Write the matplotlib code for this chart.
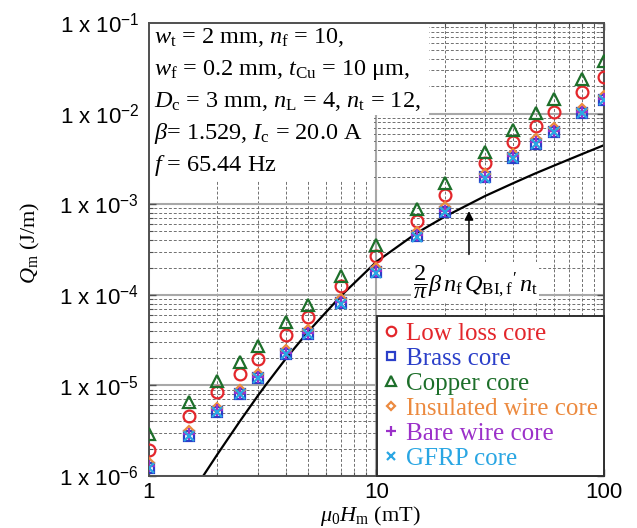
import matplotlib
matplotlib.use("Agg")
import matplotlib.pyplot as plt
from matplotlib.patches import Rectangle
from matplotlib.ticker import LogLocator, NullFormatter, FixedLocator, FixedFormatter

plt.rcParams["mathtext.fontset"] = "custom"
plt.rcParams["mathtext.rm"] = "Liberation Serif"
plt.rcParams["mathtext.it"] = "Liberation Serif:italic"
plt.rcParams["mathtext.bf"] = "Liberation Serif:bold"
plt.rcParams["mathtext.sf"] = "Liberation Sans"

# applied field amplitude (mT)
mu0_hm = [1, 1.5, 2, 2.5, 3, 4, 5, 7, 10, 15, 20, 30, 40, 50, 60, 80, 100]

# measured loss per unit length (J/m)
q_low_loss = [1.96e-6, 4.63e-6, 8.5e-6, 1.34e-5, 1.96e-5, 3.6e-5, 5.7e-5, 1.25e-4, 2.67e-4,
              6.6e-4, 1.25e-3, 2.88e-3, 4.91e-3, 7.36e-3, 1.05e-2, 1.74e-2, 2.55e-2]
q_brass = [1.24e-6, 2.79e-6, 5.13e-6, 8.1e-6, 1.21e-5, 2.23e-5, 3.7e-5, 8.1e-5, 1.78e-4,
           4.43e-4, 8.3e-4, 1.97e-3, 3.27e-3, 4.67e-3, 6.3e-3, 1.02e-2, 1.42e-2]
q_copper = [2.94e-6, 6.6e-6, 1.12e-5, 1.82e-5, 2.73e-5, 5.0e-5, 7.7e-5, 1.61e-4, 3.52e-4,
            8.8e-4, 1.72e-3, 3.81e-3, 6.65e-3, 1.02e-2, 1.46e-2, 2.42e-2, 3.82e-2]
q_insulated = [1.38e-6, 3.1e-6, 5.7e-6, 9.0e-6, 1.35e-5, 2.48e-5, 4.1e-5, 9.0e-5, 1.97e-4,
               4.9e-4, 9.2e-4, 2.18e-3, 3.62e-3, 5.2e-3, 7.0e-3, 1.13e-2, 1.58e-2]
q_bare = [1.28e-6, 2.88e-6, 5.3e-6, 8.3e-6, 1.25e-5, 2.3e-5, 3.8e-5, 8.3e-5, 1.83e-4,
          4.55e-4, 8.5e-4, 2.02e-3, 3.36e-3, 4.8e-3, 6.5e-3, 1.05e-2, 1.46e-2]
q_gfrp = [1.23e-6, 2.76e-6, 5.08e-6, 8.0e-6, 1.2e-5, 2.2e-5, 3.66e-5, 8.0e-5, 1.76e-4,
          4.38e-4, 8.2e-4, 1.95e-3, 3.23e-3, 4.62e-3, 6.2e-3, 1.01e-2, 1.40e-2]

# calculated loss of the filaments
curve_hm = [1.6, 1.73, 2, 2.5, 3, 3.26, 4, 5, 7, 10, 15, 20, 30, 40, 50, 60, 80, 100]
curve_q = [7.4e-7, 1.0e-6, 1.74e-6, 3.97e-6, 7.6e-6, 1.01e-5, 1.98e-5, 3.9e-5, 9.8e-5, 2.32e-4,
           4.8e-4, 7.3e-4, 1.23e-3, 1.71e-3, 2.19e-3, 2.65e-3, 3.57e-3, 4.48e-3]

y_ticks = [1e-6, 1e-5, 1e-4, 1e-3, 1e-2, 1e-1]
y_tick_labels = [r"1 x 10$^{\mathsf{-6}}$", r"1 x 10$^{\mathsf{-5}}$", r"1 x 10$^{\mathsf{-4}}$",
                 r"1 x 10$^{\mathsf{-3}}$", r"1 x 10$^{\mathsf{-2}}$", r"1 x 10$^{\mathsf{-1}}$"]
x_ticks = [1, 10, 100]
x_tick_labels = ["1", "10", "100"]

params = [r"$w_\mathrm{t}$ = 2 mm, $n_\mathrm{f}$ = 10,",
          r"$w_\mathrm{f}$ = 0.2 mm, $t_\mathrm{Cu}$ = 10 μm,",
          r"$D_\mathrm{c}$ = 3 mm, $n_\mathrm{L}$ = 4, $n_\mathrm{t}$ = 12,",
          r"$\beta$= 1.529, $I_\mathrm{c}$ = 20.0 A",
          r"$f$ = 65.44 Hz"]

series = [
    ("Low loss core", q_low_loss, "o", "#e3262b", 8.5),
    ("Brass core", q_brass, "s", "#2b3fc9", 7.5),
    ("Copper core", q_copper, "^", "#1d6f2a", 9),
    ("Insulated wire core", q_insulated, "D", "#ec8a3f", 5.5),
    ("Bare wire core", q_bare, "+", "#9b30c9", 9),
    ("GFRP core", q_gfrp, "x", "#2aa6e3", 7.5),
]

fig = plt.figure(figsize=(6.37, 5.28), dpi=100)
ax = fig.add_axes([0.2339, 0.0985, 0.7143, 0.8580])
ax.set_xscale("log")
ax.set_yscale("log")
ax.set_xlim(1, 100)
ax.set_ylim(1e-6, 1e-1)

for label, q, m, c, ms in series:
    ax.plot(mu0_hm, q, linestyle="none", marker=m, ms=ms, mfc="none", mec=c,
            mew=1.6, label=label, zorder=3)

ax.plot(curve_hm, curve_q, color="black", lw=1.6, zorder=2.5)

# grid
ax.xaxis.set_minor_locator(LogLocator(base=10, subs=range(2, 10), numticks=20))
ax.yaxis.set_minor_locator(LogLocator(base=10, subs=range(2, 10), numticks=20))
ax.xaxis.set_minor_formatter(NullFormatter())
ax.yaxis.set_minor_formatter(NullFormatter())
ax.grid(which="major", color="#a8a8a8", lw=1.5, ls="-")
ax.grid(which="minor", color="#707070", lw=0.7, ls=(0, (3, 2)))

ax.yaxis.set_major_locator(FixedLocator(y_ticks))
ax.yaxis.set_major_formatter(FixedFormatter(y_tick_labels))
ax.xaxis.set_major_locator(FixedLocator(x_ticks))
ax.xaxis.set_major_formatter(FixedFormatter(x_tick_labels))
ax.tick_params(which="both", direction="in", top=True, right=True, color="#505050")
ax.tick_params(which="major", length=5, width=1)
ax.tick_params(which="minor", length=3, width=0.8)
ax.tick_params(axis="y", pad=7)
ax.tick_params(axis="x", pad=4)
for t in ax.get_xticklabels() + ax.get_yticklabels():
    t.set_fontfamily("Liberation Sans")
    t.set_fontsize(16)
for s in ax.spines.values():
    s.set_color("#505050")
    s.set_linewidth(1.4)

ax.set_xlabel(r"$\mu_0H_\mathrm{m}$ (mT)", fontsize=16, family="Liberation Serif")
ax.set_ylabel(r"$Q_\mathrm{m}$ (J/m)", fontsize=16, family="Liberation Serif")
ax.xaxis.set_label_coords(0.486, -0.062)
ax.yaxis.set_label_coords(-0.235, 0.514)

# white panel behind the parameter list
ax.add_patch(Rectangle((0, 0.797), 0.615, 0.203, transform=ax.transAxes,
                       facecolor="white", edgecolor="none", zorder=2))
ax.add_patch(Rectangle((0, 0.653), 0.495, 0.15, transform=ax.transAxes,
                       facecolor="white", edgecolor="none", zorder=2))
for i, line in enumerate(params):
    ax.text(0.01, 0.956 - i * 0.0705, line, transform=ax.transAxes, fontsize=17.5,
            family="Liberation Serif", va="baseline", ha="left", zorder=4)

# arrow to the calculated curve
ax.annotate("", xy=(25.5, 9.0e-4), xytext=(25.5, 2.6e-4),
            arrowprops=dict(arrowstyle="-|>", color="black", lw=1.1, mutation_scale=13),
            zorder=4)
ax.text(27.1, 1.38e-4, r"$\dfrac{2}{\pi}\beta\, n_\mathrm{f}\, Q_{\mathrm{BI,f}}{}^{\prime}\, n_\mathrm{t}$",
        fontsize=17.5, ha="center", va="center", zorder=4,
        bbox=dict(facecolor="white", edgecolor="none", pad=1))

leg = ax.legend(loc="lower right", bbox_to_anchor=(1, 0), borderaxespad=0,
                prop={"family": "Liberation Serif", "size": 18}, frameon=True,
                fancybox=False, edgecolor="#303030", framealpha=1,
                handlelength=0.6, handletextpad=0.3, labelspacing=0.1,
                borderpad=0.25, markerscale=0.8)
leg.get_frame().set_linewidth(1.4)
leg.set_zorder(5)
for txt, (_, _, _, c, _) in zip(leg.get_texts(), series):
    txt.set_color(c)

fig.savefig("out.png", dpi=100)
